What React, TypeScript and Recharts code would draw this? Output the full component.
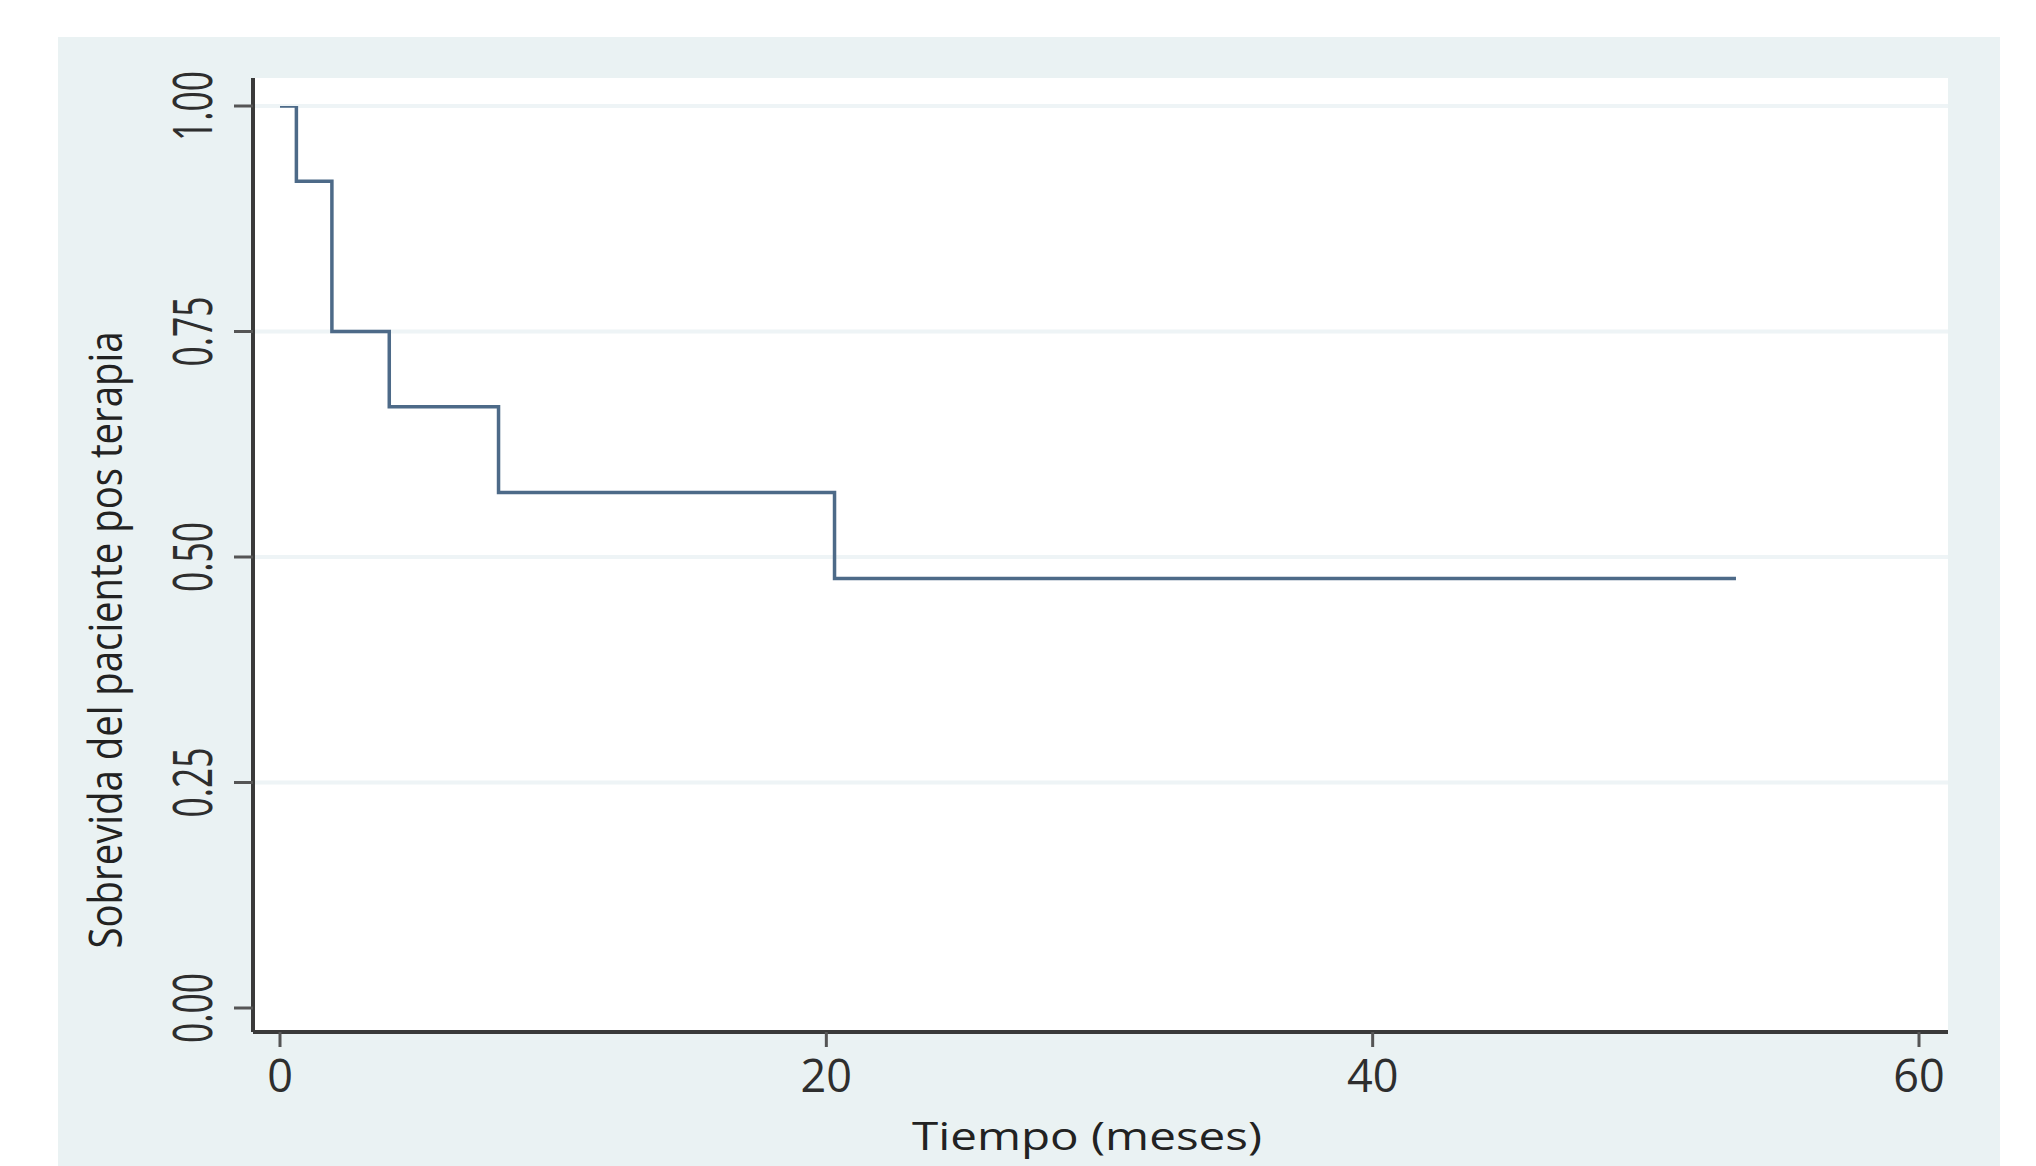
import React from "react";
import { LineChart, Line, XAxis, YAxis, CartesianGrid, ReferenceLine, Label } from "recharts";

// Kaplan-Meier step points (time in months, survival proportion)
const times = [0, 0.6, 1.9, 4.0, 8.0, 20.3, 53.3];
const survival = [1.0, 0.9167, 0.75, 0.6667, 0.5714, 0.4762, 0.4762];

const xTicks = [0, 20, 40, 60];
const yTicks = [0, 0.25, 0.5, 0.75, 1];
const yTickLabels = ["0.00", "0.25", "0.50", "0.75", "1.00"];
const gridValues = [0.25, 0.5, 0.75, 1];

const xTitle = "Tiempo (meses)";
const yTitle = "Sobrevida del paciente pos terapia";

const data = times.map((t, i) => ({ t, s: survival[i] }));

const FONT = "'Open Sans', 'Noto Sans', sans-serif";

const XTick = (props: any) => {
  const { x, y, payload } = props;
  return (
    <text x={x} y={y + 43} textAnchor="middle" fontFamily={FONT} fontSize={45} fill="#2e2e2e">
      {String(payload.value)}
    </text>
  );
};

const YTick = (props: any) => {
  const { x, y, payload } = props;
  const idx = yTicks.indexOf(payload.value);
  const label = idx >= 0 ? yTickLabels[idx] : String(payload.value);
  const bx = x - 20;
  return (
    <text
      x={bx}
      y={y}
      transform={`rotate(-90, ${bx}, ${y})`}
      textAnchor="middle"
      fontFamily={FONT}
      fontSize={54}
      fill="#2e2e2e"
      textLength={70}
      lengthAdjust="spacingAndGlyphs"
    >
      {label}
    </text>
  );
};

const YTitle = () => (
  <text
    x={122}
    y={640}
    transform="rotate(-90, 122, 640)"
    textAnchor="middle"
    fontFamily={FONT}
    fontSize={46}
    fill="#222"
    textLength={617}
    lengthAdjust="spacingAndGlyphs"
  >
    {yTitle}
  </text>
);

const XTitle = () => (
  <text
    x={1087}
    y={1150}
    textAnchor="middle"
    fontFamily={FONT}
    fontSize={38}
    fill="#222"
    textLength={350}
    lengthAdjust="spacingAndGlyphs"
  >
    {xTitle}
  </text>
);

export default function App() {
  return (
    <div style={{ position: "absolute", left: 0, top: 0, width: 2036, height: 1166, background: "#ffffff" }}>
      <div
        style={{
          position: "absolute",
          left: 58,
          top: 37,
          width: 1942,
          height: 1129,
          background: "#EAF2F3",
        }}
      />
      <div style={{ position: "absolute", left: 0, top: 0 }}>
        <LineChart width={2036} height={1166} data={data} margin={{ top: 78, right: 88, bottom: 0, left: 0 }}>
          <CartesianGrid horizontal={false} vertical={false} fill="#ffffff" fillOpacity={1} />
          {gridValues.map((v) => (
            <ReferenceLine key={v} y={v} stroke="#EEF4F6" strokeWidth={4} ifOverflow="extendDomain" />
          ))}
          <XAxis
            type="number"
            dataKey="t"
            domain={[0, 60]}
            ticks={xTicks}
            allowDataOverflow
            padding={{ left: 27, right: 29 }}
            axisLine={{ stroke: "#3a3a3a", strokeWidth: 4 }}
            tickLine={{ stroke: "#555", strokeWidth: 3 }}
            tickSize={15}
            tickMargin={2}
            tick={<XTick />}
            height={134}
            interval={0}
          >
            <Label content={<XTitle />} />
          </XAxis>
          <YAxis
            type="number"
            domain={[0, 1]}
            ticks={yTicks}
            allowDataOverflow
            padding={{ top: 28, bottom: 24 }}
            axisLine={{ stroke: "#3a3a3a", strokeWidth: 4 }}
            tickLine={{ stroke: "#555", strokeWidth: 3 }}
            tickSize={19}
            tickMargin={2}
            tick={<YTick />}
            width={253}
            interval={0}
          >
            <Label content={<YTitle />} />
          </YAxis>
          <Line
            type="stepAfter"
            dataKey="s"
            stroke="#4D6A88"
            strokeWidth={3.5}
            dot={false}
            activeDot={false}
            isAnimationActive={false}
          />
        </LineChart>
      </div>
    </div>
  );
}
